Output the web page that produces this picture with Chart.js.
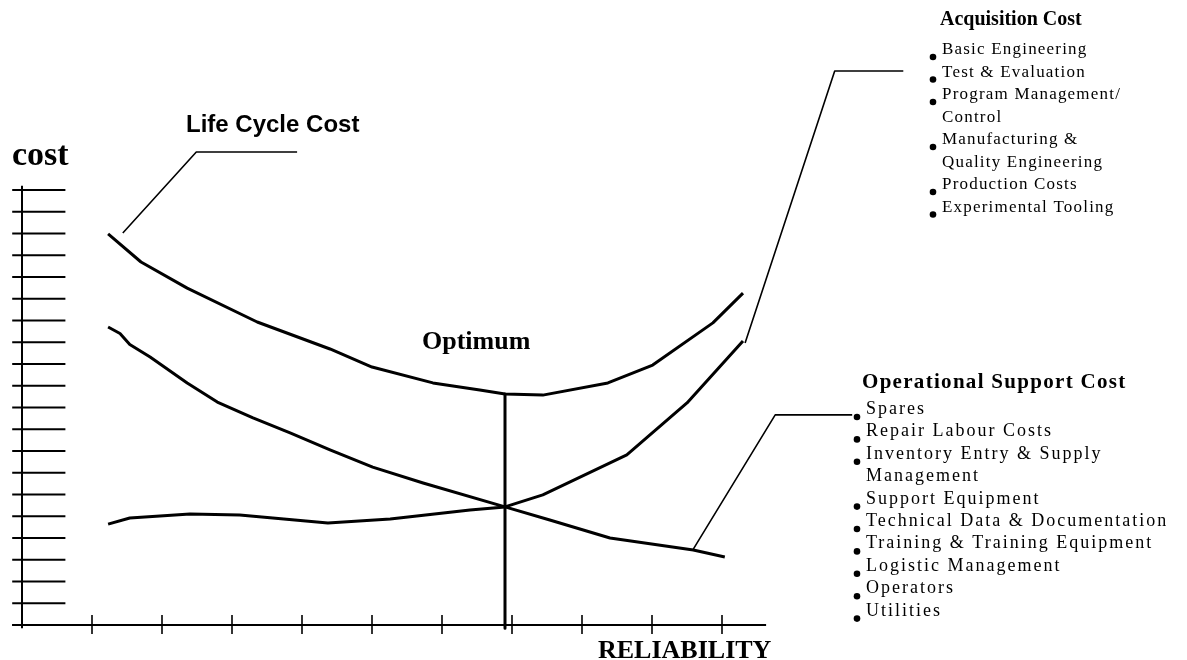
<!DOCTYPE html>
<html>
<head>
<meta charset="utf-8">
<script src="https://cdn.jsdelivr.net/npm/chart.js@4.4.0/dist/chart.umd.min.js"></script>
<style>
  html, body { margin: 0; padding: 0; background: #fff; }
  #wrap { position: relative; width: 1187px; height: 660px; }
</style>
</head>
<body>
<div id="wrap"><canvas id="chart" width="1187" height="660"></canvas></div>
<script>
// Curve data (x = reliability units, y = cost units)
const lifeCycleX = [1.23, 1.70, 2.36, 3.36, 4.40, 5.00, 5.87, 6.54, 6.90, 7.44, 8.37, 9.01, 9.87, 10.30];
const lifeCycleY = [17.98, 16.69, 15.49, 13.93, 12.69, 11.86, 11.13, 10.80, 10.62, 10.57, 11.13, 11.95, 13.89, 15.26];

const acquisitionX = [1.23, 1.54, 2.40, 3.11, 4.37, 5.26, 6.40, 6.90, 7.44, 8.64, 9.50, 10.30];
const acquisitionY = [4.64, 4.92, 5.10, 5.06, 4.69, 4.87, 5.29, 5.43, 5.98, 7.82, 10.21, 13.06];

const supportX = [1.23, 1.40, 1.54, 1.83, 2.36, 2.79, 3.30, 3.83, 4.40, 5.01, 5.73, 6.90, 7.54, 8.40, 9.59, 10.04];
const supportY = [13.70, 13.40, 12.90, 12.32, 11.13, 10.25, 9.52, 8.83, 8.05, 7.26, 6.53, 5.43, 4.83, 4.00, 3.45, 3.13];

// Optimum marker and label leader lines (same units)
const optimumX = [6.90, 6.90];
const optimumY = [10.62, -0.15];
const lifeLeaderX = [1.44, 2.49, 3.93];
const lifeLeaderY = [18.02, 21.75, 21.75];
const acqLeaderX = [10.33, 11.61, 12.59];
const acqLeaderY = [12.97, 25.47, 25.47];
const supLeaderX = [9.59, 10.76, 11.86];
const supLeaderY = [3.49, 9.66, 9.66];

// Axis tick positions
const xTicks = [1, 2, 3, 4, 5, 6, 7, 8, 9, 10];
const yTicks = [0, 1, 2, 3, 4, 5, 6, 7, 8, 9, 10, 11, 12, 13, 14, 15, 16, 17, 18, 19, 20];
const xAxisEnd = 10.63;

// Text blocks
const acquisitionTitle = 'Acquisition Cost';
const acquisitionItems = ['Basic Engineering', 'Test & Evaluation', 'Program Management/', 'Control',
  'Manufacturing &', 'Quality Engineering', 'Production Costs', 'Experimental Tooling'];
const acquisitionBullets = [true, true, true, false, true, false, true, true];
const supportTitle = 'Operational Support Cost';
const supportItems = ['Spares', 'Repair Labour Costs', 'Inventory Entry & Supply', 'Management',
  'Support Equipment', 'Technical Data & Documentation', 'Training & Training Equipment',
  'Logistic Management', 'Operators', 'Utilities'];
const supportBullets = [true, true, true, false, true, true, true, true, true, true];

function toPoints(xs, ys) {
  return xs.map((x, i) => ({ x: x, y: ys[i] }));
}

function lineSet(xs, ys, width) {
  return {
    data: toPoints(xs, ys),
    showLine: true,
    borderColor: '#000',
    borderWidth: width,
    pointRadius: 0,
    tension: 0,
    clip: false,
    borderJoinStyle: 'round',
    borderCapStyle: 'butt'
  };
}

function drawList(ctx, title, items, bullets, opts) {
  ctx.font = opts.titleFont;
  ctx.letterSpacing = opts.titleSpacing;
  ctx.fillText(title, opts.titleX, opts.titleY);
  ctx.font = opts.itemFont;
  ctx.letterSpacing = opts.itemSpacing;
  items.forEach((txt, i) => {
    const by = opts.firstY + i * opts.step;
    ctx.fillText(txt, opts.bulletX + 10, by);
    if (bullets[i]) {
      ctx.beginPath();
      ctx.arc(opts.bulletX + 1, by + 3, 3.3, 0, Math.PI * 2);
      ctx.fill();
    }
  });
  ctx.letterSpacing = '0px';
}

// Draws the hand-made axes and all the labels
const decorPlugin = {
  id: 'decor',
  afterDatasetsDraw(chart) {
    const ctx = chart.ctx;
    const xs = chart.scales.x;
    const ys = chart.scales.y;
    ctx.save();
    ctx.strokeStyle = '#000';
    ctx.fillStyle = '#000';

    // y axis + ticks
    ctx.lineWidth = 2;
    ctx.beginPath();
    ctx.moveTo(xs.getPixelForValue(0), ys.getPixelForValue(20.2));
    ctx.lineTo(xs.getPixelForValue(0), ys.getPixelForValue(-0.15));
    ctx.stroke();
    yTicks.forEach(t => {
      ctx.beginPath();
      ctx.moveTo(xs.getPixelForValue(-0.14), ys.getPixelForValue(t));
      ctx.lineTo(xs.getPixelForValue(0.62), ys.getPixelForValue(t));
      ctx.stroke();
    });

    // x axis + ticks
    const y0 = ys.getPixelForValue(0);
    ctx.beginPath();
    ctx.moveTo(xs.getPixelForValue(-0.14), y0);
    ctx.lineTo(xs.getPixelForValue(xAxisEnd), y0);
    ctx.stroke();
    ctx.lineWidth = 1.6;
    xTicks.forEach(t => {
      const px = xs.getPixelForValue(t);
      ctx.beginPath();
      ctx.moveTo(px, y0 - 10);
      ctx.lineTo(px, y0 + 9);
      ctx.stroke();
    });

    // labels
    ctx.textBaseline = 'alphabetic';
    ctx.font = 'bold 34px "Liberation Serif"';
    ctx.fillText('cost', 12, 165);
    ctx.font = 'bold 24px "Liberation Sans"';
    ctx.fillText('Life Cycle Cost', 186, 132);
    ctx.font = 'bold 26px "Liberation Serif"';
    ctx.fillText('Optimum', 422, 349);
    ctx.fillText('RELIABILITY', 598, 658);

    drawList(ctx, acquisitionTitle, acquisitionItems, acquisitionBullets, {
      titleFont: 'bold 20px "Liberation Serif"', titleSpacing: '0px', titleX: 940, titleY: 25,
      itemFont: '17px "Liberation Serif"', itemSpacing: '1.2px', bulletX: 932, firstY: 54, step: 22.5
    });
    drawList(ctx, supportTitle, supportItems, supportBullets, {
      titleFont: 'bold 21px "Liberation Serif"', titleSpacing: '1.3px', titleX: 862, titleY: 388,
      itemFont: '18px "Liberation Serif"', itemSpacing: '2px', bulletX: 856, firstY: 414, step: 22.4
    });
    ctx.restore();
  }
};

const ctx = document.getElementById('chart').getContext('2d');
new Chart(ctx, {
  type: 'scatter',
  data: {
    datasets: [
      lineSet(lifeCycleX, lifeCycleY, 3),
      lineSet(acquisitionX, acquisitionY, 3),
      lineSet(supportX, supportY, 3),
      lineSet(optimumX, optimumY, 3),
      lineSet(lifeLeaderX, lifeLeaderY, 1.6),
      lineSet(acqLeaderX, acqLeaderY, 1.6),
      lineSet(supLeaderX, supLeaderY, 1.6)
    ]
  },
  options: {
    responsive: false,
    animation: false,
    layout: { padding: { left: 22, right: 255, top: 190, bottom: 35 } },
    scales: {
      x: { type: 'linear', min: 0, max: 13, display: false },
      y: { type: 'linear', min: 0, max: 20, display: false }
    },
    plugins: { legend: { display: false }, tooltip: { enabled: false } }
  },
  plugins: [decorPlugin]
});
</script>
</body>
</html>
